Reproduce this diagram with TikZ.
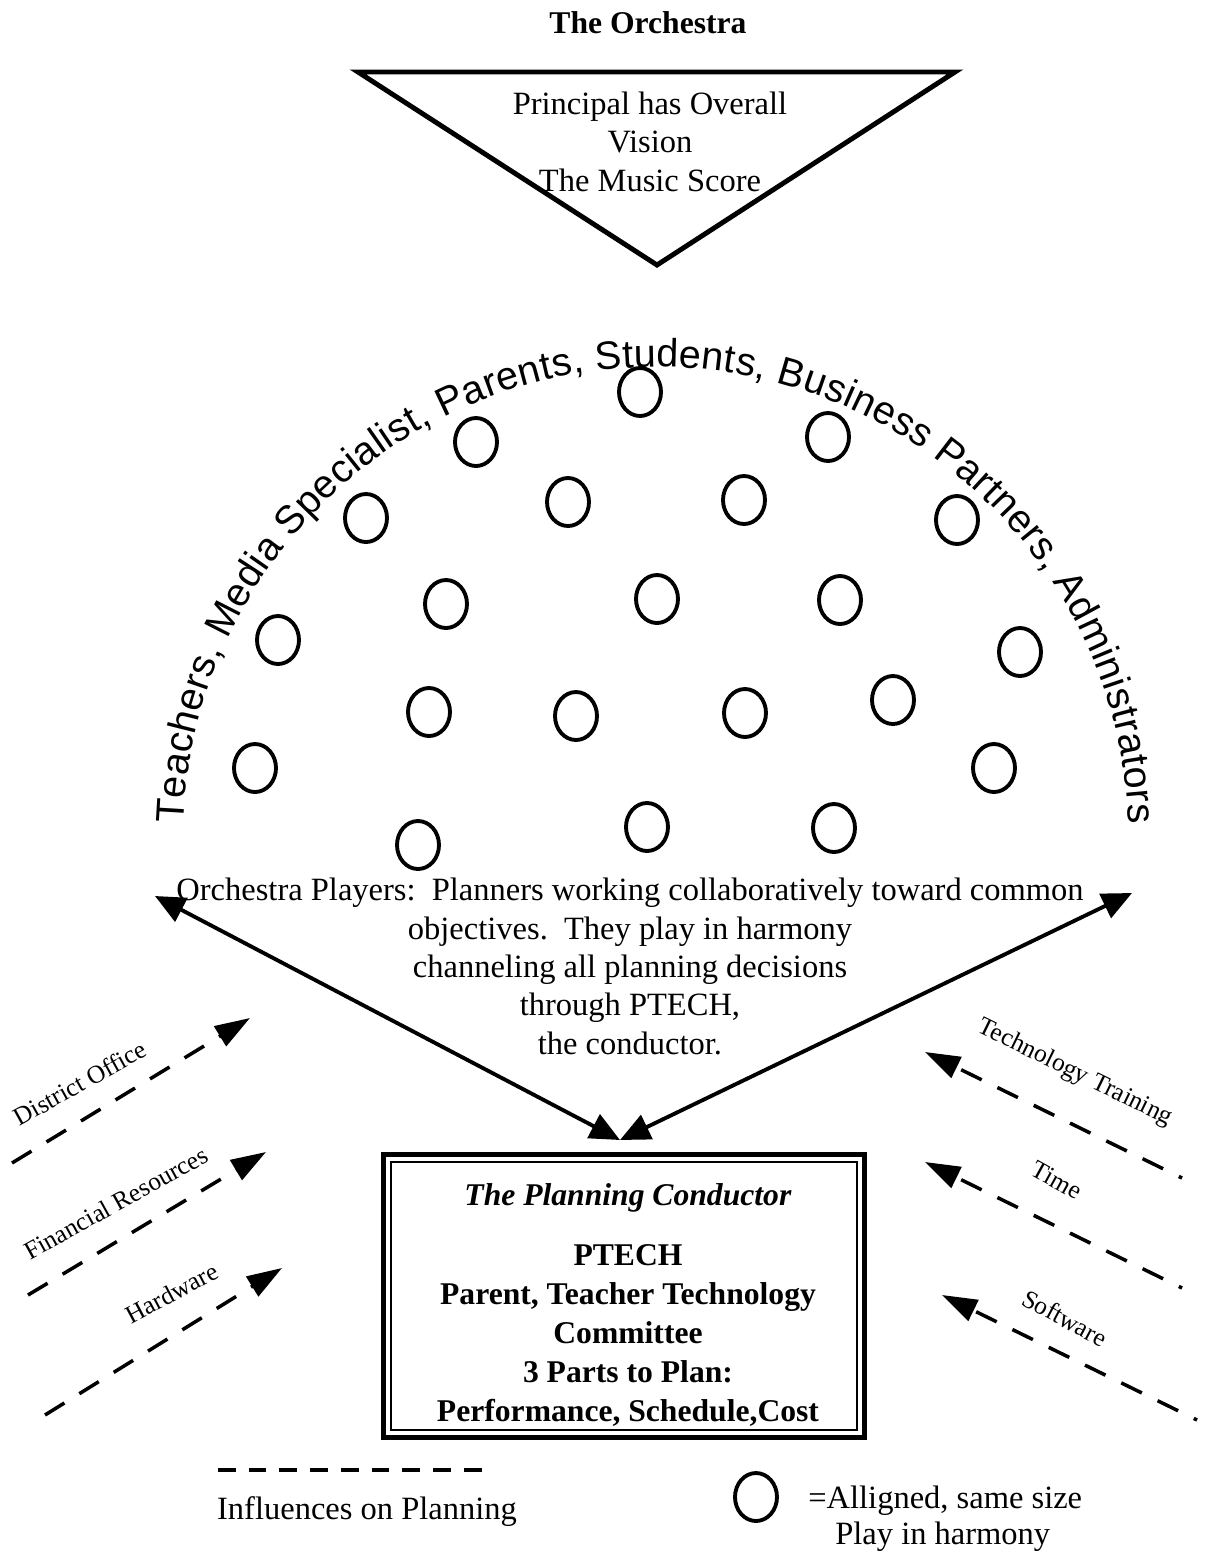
\documentclass[tikz,border=0pt]{standalone}
\usepackage{fontspec}
\setmainfont{Liberation Serif}
\newfontfamily\arcfont{Liberation Sans}
\usetikzlibrary{arrows.meta,shapes.geometric,decorations.text,calc}

\begin{document}
\begin{tikzpicture}[x=0.02cm,y=0.02cm,
  player/.style={draw, ellipse, line width=2.2pt, minimum width=0.84cm,
    minimum height=0.96cm, inner sep=0pt},
  bodytext/.style={font=\fontsize{18.5}{21.8}\selectfont, align=center, inner sep=0pt},
  boxtext/.style={font=\bfseries\fontsize{18}{22.1}\selectfont, align=center, inner sep=0pt},
  twoway/.style={line width=2.2pt,
    {Triangle[length=17pt,width=15pt]}-{Triangle[length=17pt,width=15pt]}},
  influence/.style={line width=2pt, dash pattern=on 13pt off 10pt,
    -{Triangle[length=20pt,width=13pt]}},
  inflabel/.style={font=\fontsize{14.5}{17}\selectfont, inner sep=0pt},
]
\useasboundingbox (0,0) rectangle (1206,-1553);

% title and the principal's triangle
\node[font=\bfseries\fontsize{18}{21}\selectfont, anchor=base, inner sep=0pt]
  (title) at (648,-33) {The Orchestra};
\draw[line width=2.8pt, line join=miter] (358,-72) -- (955,-72) -- (657,-265) -- cycle;
% multi-line nodes: the base anchor sits on the last line
\node[bodytext, anchor=base] (vision) at (650,-191)
  {Principal has Overall\\Vision\\The Music Score};

% the orchestra players
\foreach \n/\x/\y in {1/640/392, 2/476/442, 3/828/437, 4/366/518, 5/568/502,
  6/744/500, 7/957/520, 8/278/640, 9/446/604, 10/657/599, 11/840/600,
  12/1020/652, 13/429/712, 14/576/716, 15/745/713, 16/893/700, 17/255/768,
  18/994/768, 19/418/845, 20/647/827, 21/834/828}
  \node[player] (p\n) at (\x,-\y) {};

% the planners, written round the orchestra
\path[decorate, decoration={text along path, text align=fit to path,
  text={|\arcfont\fontsize{22.5}{26}\selectfont|Teachers, Media Specialist, Parents, Students, Business Partners, Administrators}}]
  (656,-840) ++(178:473) arc[start angle=178, end angle=2, radius=473];

\node[bodytext, anchor=base] (players) at (630,-1054)
  {Orchestra Players:\ \ Planners working collaboratively toward common\\
   objectives.\ \ They play in harmony\\
   channeling all planning decisions\\
   through PTECH,\\
   the conductor.};

% the conductor
\node[draw, line width=2.8pt, minimum width=9.62cm, minimum height=5.66cm,
  inner sep=0pt] (ptech) at (624,-1296) {};
\draw[line width=0.9pt] ($(ptech.south west)+(10,10)$) rectangle ($(ptech.north east)+(-10,-10)$);
\node[boxtext, anchor=base] (ptechtext) at (628,-1421)
  {\textit{The Planning Conductor}\\[12pt]
   PTECH\\
   Parent, Teacher Technology\\
   Committee\\
   3 Parts to Plan:\\
   Performance, Schedule,Cost};

% players <-> conductor
\coordinate (lp) at (155,-896);
\coordinate (rp) at (1132,-893);
\coordinate (apex) at (620,-1140);
\draw[twoway] (lp) -- (apex);
\draw[twoway] (rp) -- (apex);

% influences from the left
\coordinate (do0) at (12,-1163);  \coordinate (do1) at (250,-1018);
\coordinate (fr0) at (28,-1295);  \coordinate (fr1) at (266,-1152);
\coordinate (hw0) at (45,-1415);  \coordinate (hw1) at (282,-1268);
\draw[influence] (do0) -- (do1);
\draw[influence] (fr0) -- (fr1);
\draw[influence] (hw0) -- (hw1);
\node[inflabel, rotate=29] (dolab) at (80,-1083) {District Office};
\node[inflabel, rotate=29] (frlab) at (116,-1203) {Financial Resources};
\node[inflabel, rotate=28] (hwlab) at (172,-1293) {Hardware};

% influences from the right
\coordinate (tt0) at (1182,-1178); \coordinate (tt1) at (925,-1052);
\coordinate (tm0) at (1182,-1288); \coordinate (tm1) at (925,-1162);
\coordinate (sw0) at (1197,-1420); \coordinate (sw1) at (942,-1295);
\draw[influence, dash phase=11pt] (tt0) -- (tt1);
\draw[influence, dash phase=11pt] (tm0) -- (tm1);
\draw[influence, dash phase=11pt] (sw0) -- (sw1);
\node[inflabel, rotate=-26] (ttlab) at (1075,-1073) {Technology Training};
\node[inflabel, rotate=-29] (tmlab) at (1057,-1180) {Time};
\node[inflabel, rotate=-28] (swlab) at (1065,-1318) {Software};

% legend
\coordinate (leg0) at (218,-1470);
\coordinate (leg1) at (492,-1470);
\draw[line width=2pt, dash pattern=on 10pt off 7.5pt] (leg0) -- (leg1);
\node[bodytext, anchor=base] (inflegend) at (367,-1519) {Influences on Planning};
\node[player] (legcircle) at (756,-1497) {};
\node[bodytext, anchor=base west] (alignlegend) at (808,-1508) {=Alligned, same size};
\node[bodytext, anchor=base west] (harmonylegend) at (835,-1544) {Play in harmony};
\end{tikzpicture}
\end{document}
